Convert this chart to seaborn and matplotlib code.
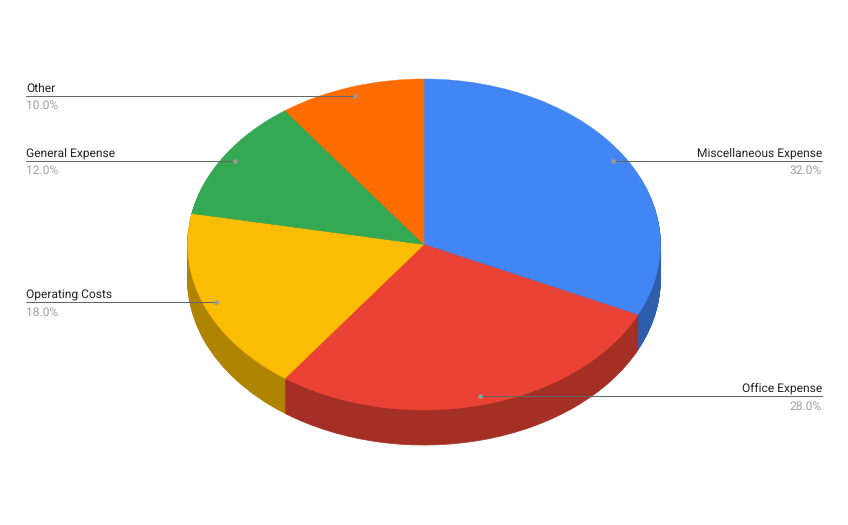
import numpy as np
import matplotlib.pyplot as plt
import seaborn as sns

# Expense shares, clockwise from the top
categories = ['Miscellaneous Expense', 'Office Expense', 'Operating Costs', 'General Expense', 'Other']
values = [32.0, 28.0, 18.0, 12.0, 10.0]
colors = ['#4285F4', '#EA4335', '#FBBC04', '#34A853', '#FF6D01']

sns.set_theme(style='white')
plt.rcParams['font.family'] = ['Roboto', 'DejaVu Sans']
plt.rcParams['text.hinting'] = 'no_hinting'

W, H = 848, 525
cx, cy = 424, 244.5
rx, ry = 236.5, 165.5
depth = 35

fig = plt.figure(figsize=(W / 100, H / 100), dpi=100)
ax = fig.add_axes([0, 0, 1, 1])

# Side wall: stack darker pies going up, then the top pie over them
dark = [tuple(c * 0.7 for c in sns.desaturate(col, 1.0)) for col in colors]
for off in range(depth, 0, -1):
    wedges, _ = ax.pie(values, colors=dark, startangle=90, counterclock=False,
                       center=(0, -off / ry), radius=1)
    for w, col in zip(wedges, dark):
        w.set_edgecolor(col)
        w.set_linewidth(0.5)
wedges, _ = ax.pie(values, colors=colors, startangle=90, counterclock=False,
                   center=(0, 0), radius=1)
for w, col in zip(wedges, colors):
    w.set_edgecolor(col)
    w.set_linewidth(0.3)

# stretch the unit circle into an ellipse
ax.set_aspect('auto')
ax.set_xlim(-cx / rx, (W - cx) / rx)
ax.set_ylim(-(H - cy) / ry, cy / ry)

# Leader lines and labels
left_x = (26 - cx) / rx
right_x = (822 - cx) / rx
cum = 0
for name, val in zip(categories, values):
    mid = (cum + val / 2) / sum(values) * 2 * np.pi
    cum += val
    px, py = 0.945 * np.sin(mid), 0.945 * np.cos(mid)
    right = px > 0
    end = right_x if right else left_x
    ha = 'right' if right else 'left'
    ax.plot([px, end], [py, py], color='#666666', lw=0.75, zorder=5)
    ax.plot([px], [py], 'o', ms=2.4, color='#999999', zorder=6)
    ax.text(end, py + 4 / ry, name, ha=ha, va='baseline', fontsize=8.64, color='#222222')
    ax.text(end, py - 13.5 / ry, f'{val:.1f}%', ha=ha, va='baseline', fontsize=8.64, color='#a0a0a0')

fig.savefig('out.png', dpi=100, facecolor='white')
